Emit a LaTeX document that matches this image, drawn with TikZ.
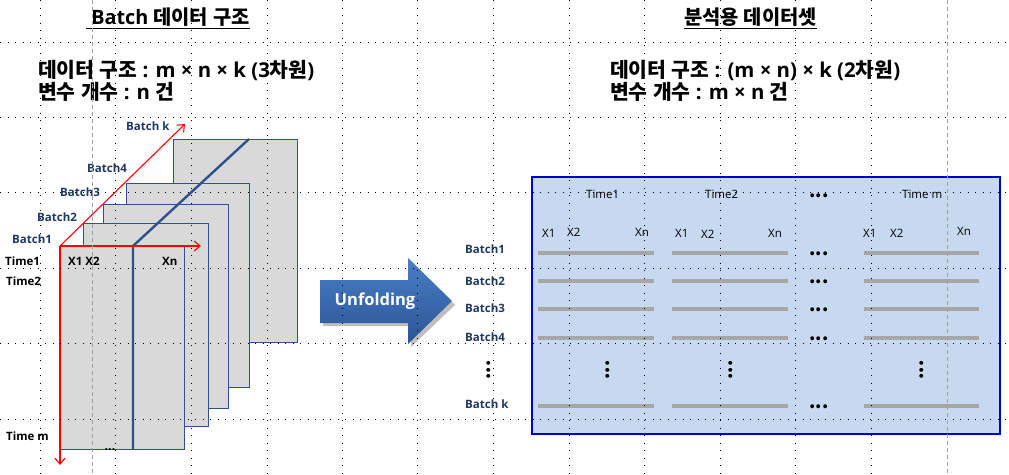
\documentclass[tikz,border=0pt]{standalone}
\usepackage{fontspec}
\setmainfont{Noto Sans CJK KR}
\newfontfamily\latfont{Open Sans}
\newcommand{\lt}[1]{{\latfont #1}}
\usetikzlibrary{arrows.meta}
\definecolor{navy}{HTML}{1F3864}
\definecolor{rectline}{HTML}{2F528F}
\definecolor{rectfill}{HTML}{D9D9D9}
\definecolor{boxfill}{HTML}{C6D9F0}
\definecolor{boxline}{HTML}{0000CC}
\definecolor{barcol}{HTML}{A6A6A6}
\definecolor{arrtop}{HTML}{4A7FC6}
\definecolor{arrbot}{HTML}{2A5595}
\definecolor{guide}{HTML}{A0A0A0}
\begin{document}
\begin{tikzpicture}[x=1pt,y=-1pt,
  bigtxt/.style={inner sep=0pt,anchor=west,font=\bfseries\fontsize{20.4}{22}\selectfont},
  titletxt/.style={inner sep=0pt,anchor=west,font=\bfseries\fontsize{19.8}{22}\selectfont},
  lbl/.style={inner sep=0pt,anchor=west,font=\latfont\bfseries\fontsize{11.5}{13}\selectfont,text=navy},
  blk/.style={inner sep=0pt,anchor=west,font=\latfont\bfseries\fontsize{11.5}{13}\selectfont,text=black},
  reg/.style={inner sep=0pt,anchor=west,font=\latfont\fontsize{11.5}{13}\selectfont,text=black},
  dots/.style={inner sep=0pt,font=\bfseries\fontsize{18}{20}\selectfont},
  vdots/.style={inner sep=0pt,font=\bfseries\fontsize{18}{20}\selectfont,rotate=90},
  layer/.style={draw=rectline,fill=rectfill,line width=1pt},
  redarr/.style={draw=red,line width=1.1pt,-{Straight Barb[length=6pt,width=10pt]}},
  bar/.style={draw=barcol,line width=3.5pt},
  griddot/.style={draw=black,line width=0.9pt,dash pattern=on 0.9pt off 6.6pt},
  guideline/.style={draw=guide,line width=0.8pt,dash pattern=on 4pt off 3pt}]
\useasboundingbox (0,0) rectangle (1009,474);
\fill[white] (0,0) rectangle (1009,474);

% ---------- left: stacked batches ----------
\draw[layer] (173,139) rectangle (297,342);
\draw[layer] (126,183) rectangle (249,387);
\draw[layer] (103,204) rectangle (228,408);
\draw[layer] (83,223) rectangle (208,426);
\draw[layer] (60,246) rectangle (184,449);
\coordinate (o) at (60,246);
\coordinate (b1) at (133,246);
\coordinate (b1b) at (133,449);
\coordinate (bk) at (249,139);
\coordinate (ex) at (201,246);
\coordinate (et) at (60,465);
\coordinate (ek) at (185,124);
\draw[rectline,line width=2.4pt] (b1b) -- (b1) -- (bk);
\draw[redarr] (o) -- (ex);
\draw[redarr] (o) -- (et);
\draw[redarr] (o) -- (ek);

\node[lbl] (lbk) at (126,126) {Batch k};
\node[lbl] (lb4) at (87,168) {Batch4};
\node[lbl] (lb3) at (60,192) {Batch3};
\node[lbl] (lb2) at (37,217) {Batch2};
\node[lbl] (lb1) at (12,239) {Batch1};
\node[blk] (lt1) at (5,261) {Time1};
\node[blk] (lt2) at (6,281) {Time2};
\node[blk] (ltm) at (6,436) {Time m};
\node[blk] (lx12) at (68,261) {X1 X2};
\node[blk] (lxn) at (162,261) {Xn};
\node[inner sep=0pt,font=\bfseries\fontsize{10}{12}\selectfont] (ldots) at (110,450) {...};

% ---------- titles ----------
\node[titletxt] (title1) at (86,18) {\underline{\lt{ Batch }데이터\lt{ }구조}};
\node[bigtxt] (line1) at (38,70) {데이터\lt{ }구조\lt{ : m × n × k (3}차원\lt{)}};
\node[bigtxt] (line2) at (38,92) {변수\lt{ }개수\lt{ : n }건};
\node[titletxt] (title2) at (684,18) {\underline{분석용\lt{ }데이터셋}};
\node[bigtxt] (line3) at (610,70) {데이터\lt{ }구조\lt{ : (m × n) × k (2}차원\lt{)}};
\node[bigtxt] (line4) at (610,92) {변수\lt{ }개수\lt{ : m × n }건};

% ---------- unfolding arrow ----------
\fill[black,opacity=0.25] (323,283) -- (411,283) -- (411,261) -- (455,305) -- (411,347) -- (411,326) -- (323,326) -- cycle;
\shade[top color=arrtop,bottom color=arrbot] (320,280) -- (408,280) -- (408,258) -- (452,301) -- (408,344) -- (408,323) -- (320,323) -- cycle;
\node[inner sep=0pt,text=white,font=\latfont\bfseries\fontsize{16.5}{20}\selectfont] (unf) at (375,301) {Unfolding};

% ---------- right: unfolded data set ----------
\draw[fill=boxfill,draw=boxline,line width=1.3pt] (532,177) rectangle (1000,434);
\node[reg] (h1) at (586,194) {Time1};
\node[reg] (h2) at (705,194) {Time2};
\node[dots] (hd) at (819,196) {...};
\node[reg] (hm) at (902,194) {Time m};

\node[reg] (a1) at (542,233) {X1};
\node[reg] (a2) at (567,232) {X2};
\node[reg] (an) at (635,232) {Xn};
\node[reg] (b1x) at (675,233) {X1};
\node[reg] (b2x) at (701,234) {X2};
\node[reg] (bnx) at (768,233) {Xn};
\node[reg] (c1) at (863,233) {X1};
\node[reg] (c2) at (890,233) {X2};
\node[reg] (cn) at (957,231) {Xn};

\foreach \y/\n in {253/1,281/2,309/3,338/4,406/k}{
  \draw[bar] (538,\y) -- (654,\y);
  \draw[bar] (672,\y) -- (788,\y);
  \draw[bar] (864,\y) -- (979,\y);
  \node[dots] (rd\n) at (819,\y+1) {...};
}
\node[lbl] (rb1) at (465,249) {Batch1};
\node[lbl] (rb2) at (465,281) {Batch2};
\node[lbl] (rb3) at (465,308) {Batch3};
\node[lbl] (rb4) at (465,337) {Batch4};
\node[lbl] (rbk) at (465,404) {Batch k};
\node[vdots] (rv0) at (489,370) {...};
\node[vdots] (rv1) at (608,370) {...};
\node[vdots] (rv2) at (731,370) {...};
\node[vdots] (rv3) at (922,370) {...};

% ---------- grid guides ----------
\foreach \x in {40,115,191,267,342,417,493,569,644,720,795,871}
  \draw[griddot] (\x,0) -- (\x,474);
\foreach \y in {42,117,192,268,343,419}
  \draw[griddot] (0,\y) -- (1009,\y);
\draw[guideline] (92,0) -- (92,474);
\draw[guideline] (947,0) -- (947,474);
\end{tikzpicture}
\end{document}
